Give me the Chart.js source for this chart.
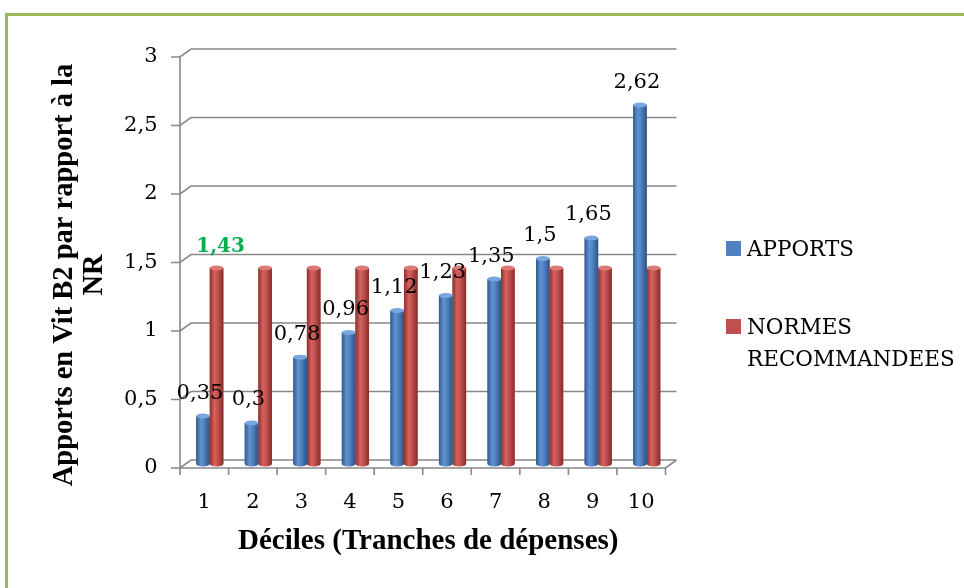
<!DOCTYPE html>
<html>
<head>
<meta charset="utf-8">
<script src="https://cdn.jsdelivr.net/npm/chart.js@4/dist/chart.umd.min.js"></script>
<style>
  body { margin: 0; background: #fff; }
  #wrap { position: relative; width: 964px; height: 588px; overflow: hidden; }
  #frame { position: absolute; left: 5px; top: 13px; right: -10px; bottom: -10px;
           border-top: 3px solid #9bbb59; border-left: 3px solid #9bbb59; pointer-events: none; }
  #legend { position: absolute; left: 726px; top: 233px; font: 21.5px 'DejaVu Serif'; color: #000; line-height: 32px; }
  #legend .item { position: relative; padding-left: 21px; margin-bottom: 46px; }
  #legend .box { position: absolute; left: 0; top: 8px; width: 15px; height: 15px; }
</style>
</head>
<body>
<div id="wrap">
  <canvas id="chart" width="964" height="588"></canvas>
  <div id="frame"></div>
  <div id="legend"></div>
</div>
<script>
/* data */
const deciles = ['1', '2', '3', '4', '5', '6', '7', '8', '9', '10'];
const apports = [0.35, 0.3, 0.78, 0.96, 1.12, 1.23, 1.35, 1.5, 1.65, 2.62];
const normes = [1.43, 1.43, 1.43, 1.43, 1.43, 1.43, 1.43, 1.43, 1.43, 1.43];
const yTicks = [0, 0.5, 1, 1.5, 2, 2.5, 3];
const seriesNames = ['APPORTS', ['NORMES', 'RECOMMANDEES']];
const yTitle = ['Apports en Vit B2 par rapport à la', 'NR'];
const normesLabelled = [0];

const BLUE = '#4f81bd';
const RED = '#c0504d';
const DX = 5.5, DY = 4;   // half of the 3D depth offset
const numFont = "'DejaVu Serif'";

function fmt(v) { return String(v).replace('.', ','); }

// legend built from the series
const legendDOM = document.getElementById('legend');
legendDOM.innerHTML = seriesNames.map((name, i) => {
  const txt = Array.isArray(name) ? name.join('<br>') : name;
  return `<div class="item"><span class="box" style="background:${i ? RED : BLUE}"></span>${txt}</div>`;
}).join('');

// back wall, floor and front axes like the Excel 3D look
const frame3d = {
  id: 'frame3d',
  beforeDatasetsDraw(chart) {
    const { ctx, chartArea: a, scales: { x, y } } = chart;
    ctx.save();
    ctx.strokeStyle = '#888';
    ctx.lineWidth = 1.6;
    ctx.beginPath();
    y.ticks.forEach(t => {
      const py = y.getPixelForValue(t.value);
      ctx.moveTo(a.left - DX - 9, py + DY);
      ctx.lineTo(a.left - DX, py + DY);
      ctx.lineTo(a.left + DX, py - DY);
      ctx.lineTo(a.right + DX, py - DY);
    });
    const y0 = y.getPixelForValue(0);
    ctx.moveTo(a.left - DX, y.getPixelForValue(y.max) + DY);
    ctx.lineTo(a.left - DX, y0 + DY);
    ctx.lineTo(a.right - DX, y0 + DY);
    ctx.lineTo(a.right + DX, y0 - DY);
    const n = x.ticks.length;
    const w = (a.right - a.left) / n;
    for (let i = 0; i <= n; i++) {
      ctx.moveTo(a.left - DX + i * w, y0 + DY);
      ctx.lineTo(a.left - DX + i * w, y0 + DY + 7);
    }
    ctx.stroke();
    ctx.restore();
  }
};

// cylinder shading on top of the plain bars
const SHADES = [
  ['#34598a', '#5f93d3', '#4f81bd', '#2f5281', '#7aa6e0'],
  ['#8c302d', '#d6625e', '#c0504d', '#862d2b', '#dc7875']
];
const cylinders = {
  id: 'cylinders',
  afterDatasetDraw(chart, args) {
    const { ctx } = chart;
    const s = SHADES[args.index];
    ctx.save();
    args.meta.data.forEach(bar => {
      const { x, y, base, width } = bar.getProps(['x', 'y', 'base', 'width'], true);
      const l = x - width / 2, r = x + width / 2;
      const g = ctx.createLinearGradient(l, 0, r, 0);
      g.addColorStop(0, s[0]);
      g.addColorStop(0.35, s[1]);
      g.addColorStop(0.6, s[2]);
      g.addColorStop(1, s[3]);
      ctx.fillStyle = g;
      ctx.beginPath();
      ctx.ellipse(x, base, width / 2, 2.5, 0, 0, Math.PI);
      ctx.fill();
      ctx.fillRect(l, y, width, base - y);
      ctx.fillStyle = s[4];
      ctx.beginPath();
      ctx.ellipse(x, y, width / 2, 2.5, 0, 0, Math.PI * 2);
      ctx.fill();
    });
    ctx.restore();
  }
};

// value labels and the rotated y title
const valueLabels = {
  id: 'valueLabels',
  afterDatasetsDraw(chart) {
    const { ctx } = chart;
    ctx.save();
    ctx.textAlign = 'center';
    ctx.textBaseline = 'middle';
    ctx.fillStyle = '#000';
    ctx.font = `21px ${numFont}`;
    chart.getDatasetMeta(0).data.forEach((bar, i) => {
      ctx.fillText(fmt(apports[i]), bar.x - 3, bar.y - 23);
    });
    ctx.fillStyle = '#00b050';
    ctx.font = `bold 20px ${numFont}`;
    normesLabelled.forEach(i => {
      const bar = chart.getDatasetMeta(1).data[i];
      ctx.fillText(fmt(normes[i]), bar.x + 4, bar.y - 21);
    });
    // y title, placed like the original (a bit below the plot's middle)
    ctx.fillStyle = '#000';
    ctx.font = "bold 28.5px 'Liberation Serif'";
    ctx.translate(65, 275);
    ctx.rotate(-Math.PI / 2);
    yTitle.forEach((line, i) => ctx.fillText(line, 0, i * 30));
    ctx.restore();
  }
};

new Chart(document.getElementById('chart'), {
  type: 'bar',
  data: {
    labels: deciles,
    datasets: [
      { label: 'APPORTS', data: apports, backgroundColor: BLUE },
      { label: 'NORMES RECOMMANDEES', data: normes, backgroundColor: RED }
    ]
  },
  options: {
    responsive: false,
    animation: false,
    categoryPercentage: 0.56,
    barPercentage: 1,
    layout: { padding: { top: 53, right: 293, left: 0, bottom: 0 } },
    plugins: { legend: { display: false }, tooltip: { enabled: false } },
    scales: {
      x: {
        grid: { display: false, drawTicks: false },
        border: { display: false },
        ticks: { color: '#000', font: { family: numFont, size: 21 }, padding: 26, labelOffset: -DX },
        title: {
          display: true, text: 'Déciles (Tranches de dépenses)', color: '#000',
          font: { family: "'Liberation Serif'", size: 29, weight: 'bold' }, padding: { top: 0, bottom: 29 }
        },
        afterFit(s) { s.height = 124; }
      },
      y: {
        min: 0, max: 3,
        grid: { display: false, drawTicks: false },
        border: { display: false },
        afterBuildTicks(s) { s.ticks = yTicks.map(v => ({ value: v })); },
        ticks: { color: '#000', font: { family: numFont, size: 21 }, padding: 28, labelOffset: DY, callback: v => fmt(v) },
        afterFit(s) { s.width = 185.5; }
      }
    }
  },
  plugins: [frame3d, cylinders, valueLabels]
});
</script>
</body>
</html>
